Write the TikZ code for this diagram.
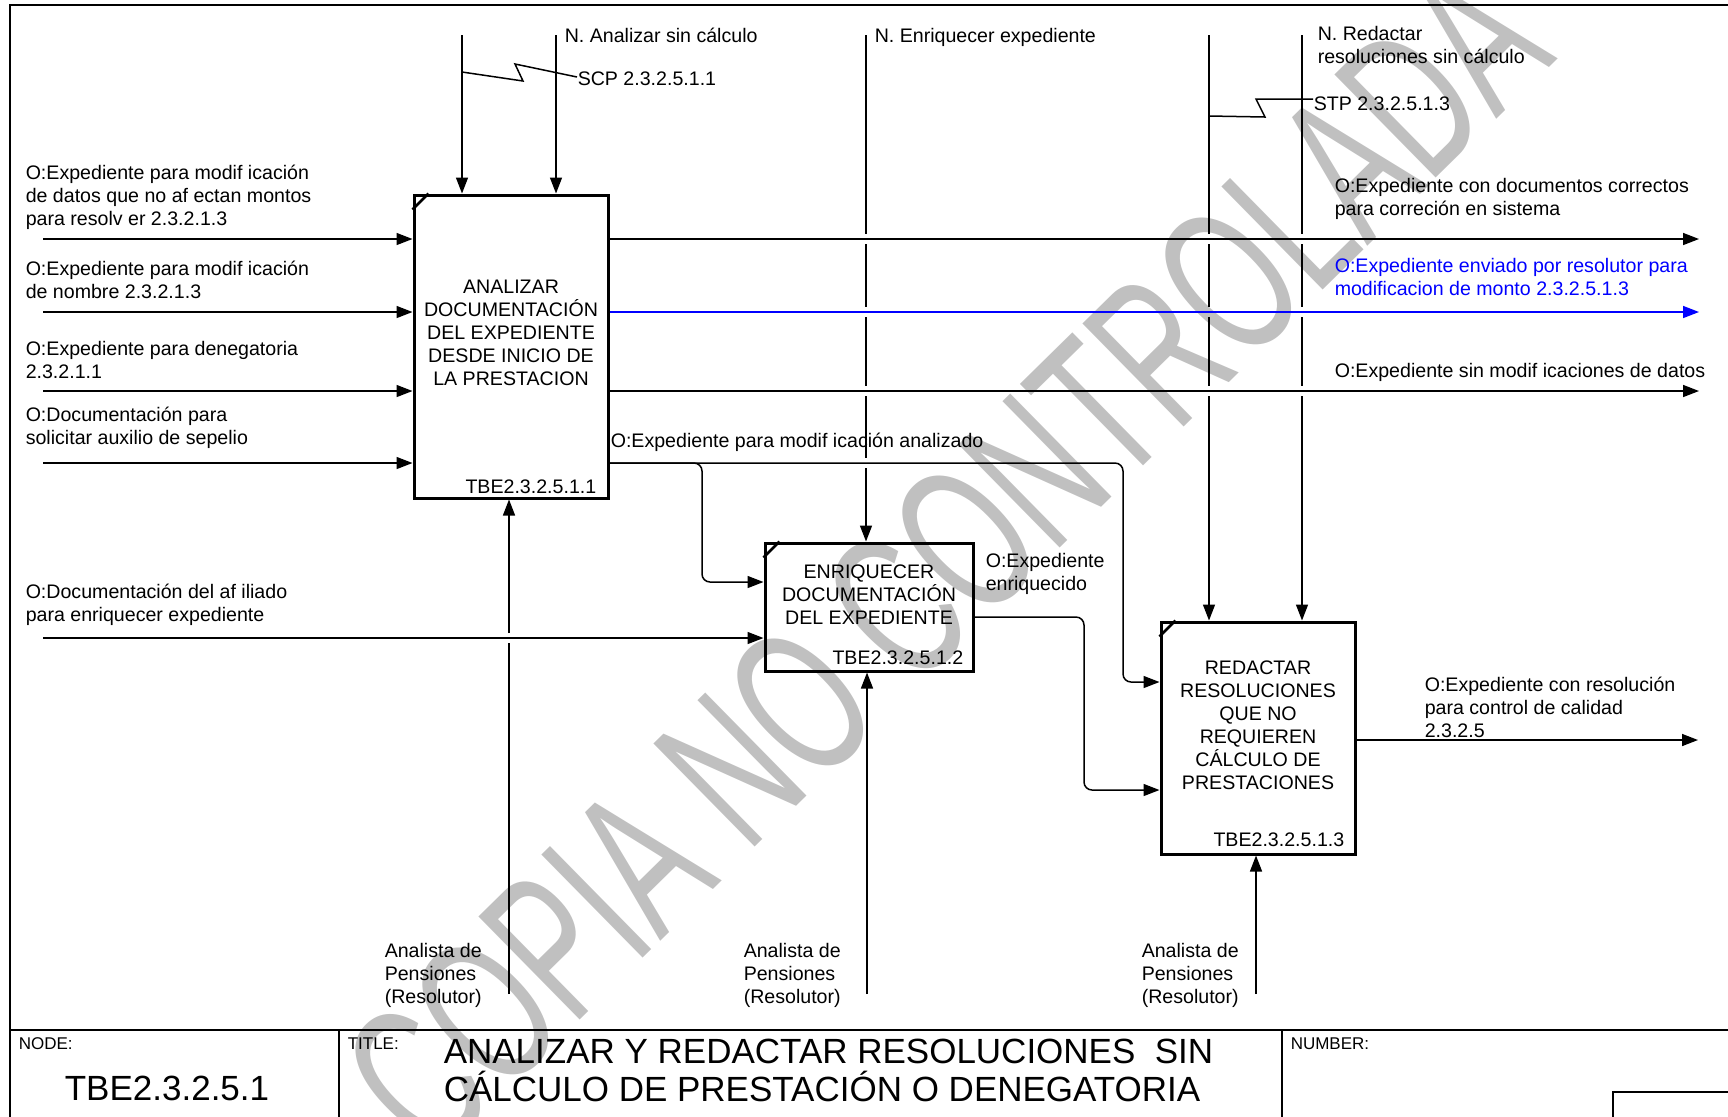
\documentclass[tikz,border=0pt]{standalone}
\usepackage{fontspec}
\setmainfont{Liberation Sans}
\usetikzlibrary{arrows.meta}
\definecolor{marca}{RGB}{192,192,192}

\begin{document}
\begin{tikzpicture}[x=0.5pt, y=-0.5pt, >={Triangle[length=8pt,width=6pt]}, line width=0.75pt,
    proc/.style={draw, line width=1.5pt, inner sep=0pt},
    lbl/.style={font=\fontsize{9.8}{11.5}\selectfont, inner sep=0pt, align=left, anchor=north west, execute at begin node=\strut},
    boxtxt/.style={font=\fontsize{9.8}{11.5}\selectfont, inner sep=0pt, align=center},
    tbe/.style={font=\fontsize{9.8}{11.5}\selectfont, inner sep=0pt, anchor=east},
    small/.style={font=\fontsize{8.5}{10}\selectfont, inner sep=0pt, anchor=west},
    big/.style={font=\fontsize{17.5}{19}\selectfont, inner sep=0pt}]
    \useasboundingbox (0,0) rectangle (1728,1116);

    % marca de agua
    \node[text=marca, font=\fontsize{105}{105}\selectfont, rotate=44.5, xscale=0.62] (agua) at (945,560) {COPIA NO CONTROLADA};

    % marco y cuadro de titulo
    \draw[line width=1pt] (10,1130) -- (10,5) -- (1740,5);
    \draw[line width=1pt] (10,1030) -- (1740,1030);
    \draw[line width=1pt] (339,1030) -- (339,1130);
    \draw[line width=1pt] (1282,1030) -- (1282,1130);
    \draw[line width=1pt] (1740,1092) -- (1613,1092) -- (1613,1130);
    \node[small] (nodo) at (18,1044) {NODE:};
    \node[big] (nodoid) at (167,1088) {TBE2.3.2.5.1};
    \node[small] (tit) at (347,1044) {TITLE:};
    \node[big, align=left, anchor=north west] (titulo) at (443,1038) {ANALIZAR Y REDACTAR RESOLUCIONES \ SIN\\CÁLCULO DE PRESTACIÓN O DENEGATORIA};
    \node[small] (num) at (1290,1044) {NUMBER:};

    % actividades
    \node[proc, minimum width=97pt, minimum height=151.5pt] (box1) at (511,346.5) {};
    \node[proc, minimum width=104pt, minimum height=64pt] (box2) at (869,607) {};
    \node[proc, minimum width=97pt, minimum height=116pt] (box3) at (1258,738) {};
    \foreach \b in {box1, box2, box3} {
        \draw[line width=1.3pt] (\b.north west) ++(0,16) -- ++(16,-16);
    }
    \node[boxtxt] (t1) at (511,333) {ANALIZAR\\DOCUMENTACIÓN\\DEL EXPEDIENTE\\DESDE INICIO DE\\LA PRESTACION};
    \node[boxtxt] (t2) at (869,595) {ENRIQUECER\\DOCUMENTACIÓN\\DEL EXPEDIENTE};
    \node[boxtxt] (t3) at (1258,725.5) {REDACTAR\\RESOLUCIONES\\QUE NO\\REQUIEREN\\CÁLCULO DE\\PRESTACIONES};
    \node[tbe] (n1) at (597,487) {TBE2.3.2.5.1.1};
    \node[tbe] (n2) at (964,658) {TBE2.3.2.5.1.2};
    \node[tbe] (n3) at (1345,840) {TBE2.3.2.5.1.3};

    % controles
    \coordinate (c1) at (462,35);
    \coordinate (c2) at (556,35);
    \draw[->] (c1) -- (c1 |- box1.north);
    \draw[->] (c2) -- (c2 |- box1.north);
    \node[lbl] (lc2) at (564,26) {N. Analizar sin cálculo};
    \node[lbl] (scp) at (577,69) {SCP 2.3.2.5.1.1};
    \draw (462,72) -- (523,81) -- (515,64) -- (577,77);

    \coordinate (c3) at (866,35);
    \foreach \a/\b in {35/234, 244/307, 317/386, 396/458} {
        \draw (866,\a) -- (866,\b);
    }
    \draw[->] (866,468) -- (c3 |- box2.north);
    \node[lbl] (lc3) at (874,26) {N. Enriquecer expediente};

    \coordinate (c4) at (1209,35);
    \coordinate (c5) at (1302,35);
    \foreach \x in {1209, 1302} {
        \foreach \a/\b in {35/234, 244/307, 317/386} {
            \draw (\x,\a) -- (\x,\b);
        }
    }
    \draw[->] (1209,396) -- (c4 |- box3.north);
    \draw[->] (1302,396) -- (c5 |- box3.north);
    \node[lbl] (lc5) at (1317,26) {N. Redactar\\resoluciones sin cálculo};
    \node[lbl] (stp) at (1313,94) {STP 2.3.2.5.1.3};
    \draw (1209,116) -- (1265,117) -- (1256,99) -- (1313,99);

    % entradas
    \coordinate (i1) at (43,239);
    \coordinate (i2) at (43,312);
    \coordinate (i3) at (43,391);
    \coordinate (i4) at (43,463);
    \coordinate (i5) at (43,638);
    \foreach \i in {i1, i2, i3, i4} {
        \draw[->] (\i) -- (\i -| box1.west);
    }
    \draw[->] (i5) -- (i5 -| box2.west);
    \node[lbl] (li1) at (25,164) {O:Expediente para modif icación\\de datos que no af ectan montos\\para resolv er 2.3.2.1.3};
    \node[lbl] (li2) at (25,260) {O:Expediente para modif icación\\de nombre 2.3.2.1.3};
    \node[lbl] (li3) at (25,341) {O:Expediente para denegatoria\\2.3.2.1.1};
    \node[lbl] (li4) at (25,406) {O:Documentación para\\solicitar auxilio de sepelio};
    \node[lbl] (li5) at (25,583) {O:Documentación del af iliado\\para enriquecer expediente};

    % salidas
    \coordinate (o1) at (1699,239);
    \coordinate (o2) at (1699,312);
    \coordinate (o3) at (1699,391);
    \coordinate (o4) at (1698,740);
    \draw[->] (o1 -| box1.east) -- (o1);
    \draw[->, blue] (o2 -| box1.east) -- (o2);
    \draw[->] (o3 -| box1.east) -- (o3);
    \draw[->] (o4 -| box3.east) -- (o4);
    \node[lbl] (lo1) at (1334,178) {O:Expediente con documentos correctos\\para correción en sistema};
    \node[lbl, text=blue] (lo2) at (1334,258) {O:Expediente enviado por resolutor para\\modificacion de monto 2.3.2.5.1.3};
    \node[lbl] (lo3) at (1334,361) {O:Expediente sin modif icaciones de datos};
    \node[lbl] (lo4) at (1424,676) {O:Expediente con resolución\\para control de calidad\\2.3.2.5};

    % flechas entre actividades
    \coordinate (k1) at (1123,682);
    \coordinate (k2) at (702,582);
    \coordinate (k3) at (1084,790);
    \draw[->, rounded corners=4pt] (i4 -| box1.east) -| (k1) -- (k1 -| box3.west);
    \draw[->, rounded corners=4pt] (i4 -| box1.east) -| (k2) -- (k2 -| box2.west);
    \draw[->, rounded corners=4pt] (box2.east |- 0,617) -| (k3) -- (k3 -| box3.west);
    \node[lbl] (lk1) at (610,431) {O:Expediente para modif icación analizado};
    \node[lbl] (lk3) at (985,553) {O:Expediente\\enriquecido};

    % mecanismos
    \coordinate (m1) at (509,994);
    \coordinate (m2) at (867,994);
    \coordinate (m3) at (1256,994);
    \draw (m1) -- (509,643);
    \draw[->] (509,633) -- (m1 |- box1.south);
    \draw[->] (m2) -- (m2 |- box2.south);
    \draw[->] (m3) -- (m3 |- box3.south);
    \node[lbl] (lm1) at (384,943) {Analista de\\Pensiones\\(Resolutor)};
    \node[lbl] (lm2) at (743,943) {Analista de\\Pensiones\\(Resolutor)};
    \node[lbl] (lm3) at (1141,943) {Analista de\\Pensiones\\(Resolutor)};
\end{tikzpicture}
\end{document}
